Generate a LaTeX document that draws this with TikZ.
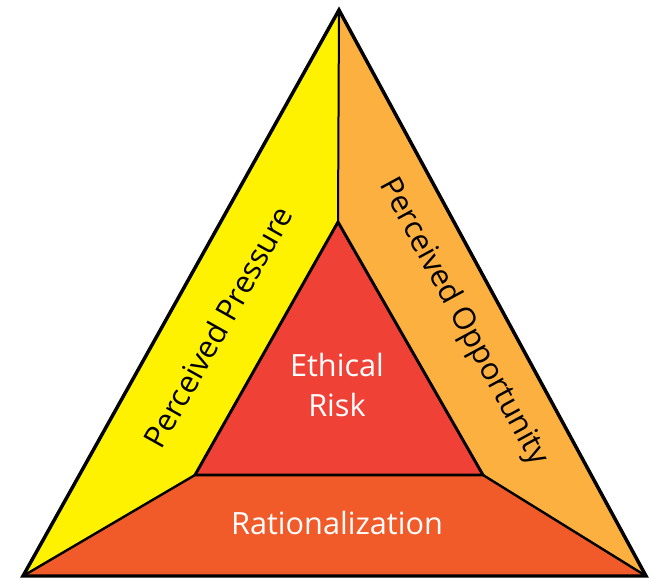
\documentclass[tikz,border=0pt]{standalone}
\usepackage{fontspec}
\setmainfont{Open Sans}
\definecolor{cyellow}{HTML}{FFF200}
\definecolor{corange}{HTML}{FBB040}
\definecolor{cred}{HTML}{EF4136}
\definecolor{crat}{HTML}{F15A29}
\begin{document}
\begin{tikzpicture}[x=0.75pt,y=-0.75pt,
  lbl/.style={font=\fontsize{23}{30}\selectfont, inner sep=0pt},
  outerline/.style={line width=2.6pt, line join=miter},
  innerline/.style={line width=2.2pt, line join=miter},
  spoke/.style={line width=1.8pt}]
\useasboundingbox (0,0) rectangle (650,579);
\coordinate (A) at (339,10);
\coordinate (L) at (23,576);
\coordinate (R) at (646,576);
\coordinate (I) at (338,222);
\coordinate (IL) at (195,475);
\coordinate (IR) at (483,475);
\fill[cyellow] (A)--(I)--(IL)--(L)--cycle;
\fill[corange] (A)--(R)--(IR)--(I)--cycle;
\fill[crat] (L)--(IL)--(IR)--(R)--cycle;
\fill[cred] (I)--(IL)--(IR)--cycle;
\draw[line width=1.5pt] (A)--(I);
\draw[spoke] (IL)--(L);
\draw[spoke] (IR)--(R);
\draw[innerline] (I)--(IL)--(IR)--cycle;
\draw[outerline] (A)--(L)--(R)--cycle;
\node[lbl, white, anchor=base] (eth) at (337,376) {Ethical};
\node[lbl, white, anchor=base] (risk) at (337,416) {Risk};
\node[lbl, white, anchor=base] (rat) at (337,534) {Rationalization};
\node[lbl, rotate=60.7] (pp) at (218,327) {Perceived Pressure};
\node[lbl, rotate=-61.5] (po) at (463,322) {Perceived Opportunity};
\end{tikzpicture}
\end{document}
